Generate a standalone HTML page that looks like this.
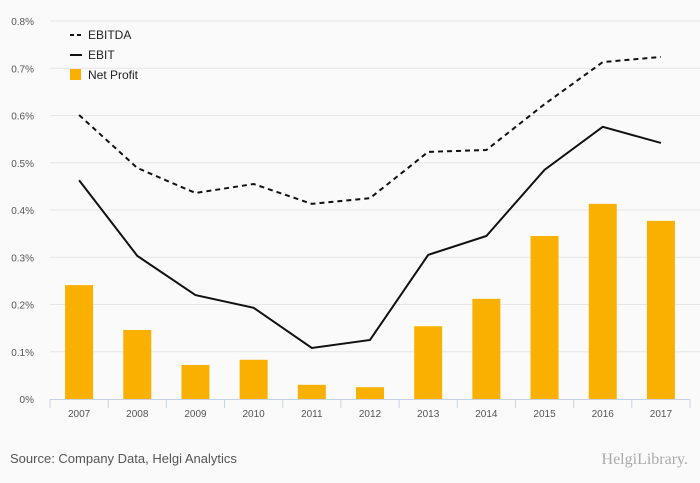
<!DOCTYPE html>
<html><head><meta charset="utf-8"><style>
body{margin:0;background:#fafafa;font-family:"Liberation Sans",sans-serif;}
svg{display:block}
</style></head><body>
<svg width="700" height="483" id="c">
<rect width="700" height="483" fill="#fafafa"/>
<g id="grid"></g><g id="bars"></g><g id="lines"></g><g id="axes"></g>
<g font-size="12" fill="#222">
<line x1="70" y1="35" x2="82" y2="35" stroke="#111" stroke-width="2" stroke-dasharray="4,3"/>
<text x="88" y="39">EBITDA</text>
<line x1="70" y1="55" x2="82" y2="55" stroke="#111" stroke-width="2"/>
<text x="88" y="59">EBIT</text>
<rect x="70" y="69" width="11" height="11" fill="#f9b000"/>
<text x="88" y="79">Net Profit</text>
</g>
<text x="10" y="463" font-size="13" fill="#555">Source: Company Data, Helgi Analytics</text>
<text x="688" y="464" font-size="16" fill="#aaa" text-anchor="end" font-family="Liberation Serif,serif">HelgiLibrary.</text>
</svg>
<script>
const categories=["2007","2008","2009","2010","2011","2012","2013","2014","2015","2016","2017"];
const netProfit=[0.241,0.146,0.072,0.083,0.030,0.025,0.154,0.212,0.345,0.413,0.377];
const ebitda=[0.601,0.489,0.436,0.455,0.413,0.425,0.523,0.527,0.624,0.713,0.724];
const ebit=[0.463,0.303,0.220,0.193,0.108,0.125,0.305,0.345,0.485,0.576,0.542];
const yTicks=[0,0.1,0.2,0.3,0.4,0.5,0.6,0.7,0.8];
const yTickLabels=["0%","0.1%","0.2%","0.3%","0.4%","0.5%","0.6%","0.7%","0.8%"];
const NS="http://www.w3.org/2000/svg";
const x0=50,x1=690,y0=399,y1=21,bw=(x1-x0)/categories.length;
const y=v=>y0-(v/0.8)*(y0-y1);
const xc=i=>x0+bw*(i+0.5);
function mk(t,a,p){const e=document.createElementNS(NS,t);for(const k in a)e.setAttribute(k,a[k]);p.appendChild(e);return e;}
const grid=document.getElementById('grid'),bars=document.getElementById('bars'),lines=document.getElementById('lines'),axes=document.getElementById('axes');
yTicks.forEach((v,i)=>{
 if(i>0){const l=mk('line',{x1:x0,x2:700,y1:y(v),y2:y(v),stroke:'#e6e6e6'},grid);
 
 }
 const t=mk('text',{x:34,y:y(v)+4,'font-size':10,fill:'#555','text-anchor':'end'},axes);t.textContent=yTickLabels[i];
 
 
});
const ax=mk('line',{x1:x0,x2:x1,y1:y0+0.5,y2:y0+0.5,stroke:'#c8d2e6'},axes);


for(let i=0;i<=categories.length;i++){const tk=mk('line',{x1:x0+bw*i,x2:x0+bw*i,y1:y0,y2:y0+9,stroke:'#c8d2e6'},axes);
 
 }
categories.forEach((c,i)=>{
 const t=mk('text',{x:xc(i),y:417,'font-size':10,fill:'#555','text-anchor':'middle'},axes);t.textContent=c;
 
 
 const b=mk('rect',{x:xc(i)-14,y:y(netProfit[i]),width:28,height:y0-y(netProfit[i]),fill:'#f9b000'},bars);
 
 
});
const p1=mk('path',{d:ebitda.map((v,i)=>(i?'L':'M')+xc(i)+','+y(v)).join(''),fill:'none',stroke:'#111','stroke-width':2,'stroke-dasharray':'5,4'},lines);


const p2=mk('path',{d:ebit.map((v,i)=>(i?'L':'M')+xc(i)+','+y(v)).join(''),fill:'none',stroke:'#111','stroke-width':2},lines);


</script>
</body></html>
